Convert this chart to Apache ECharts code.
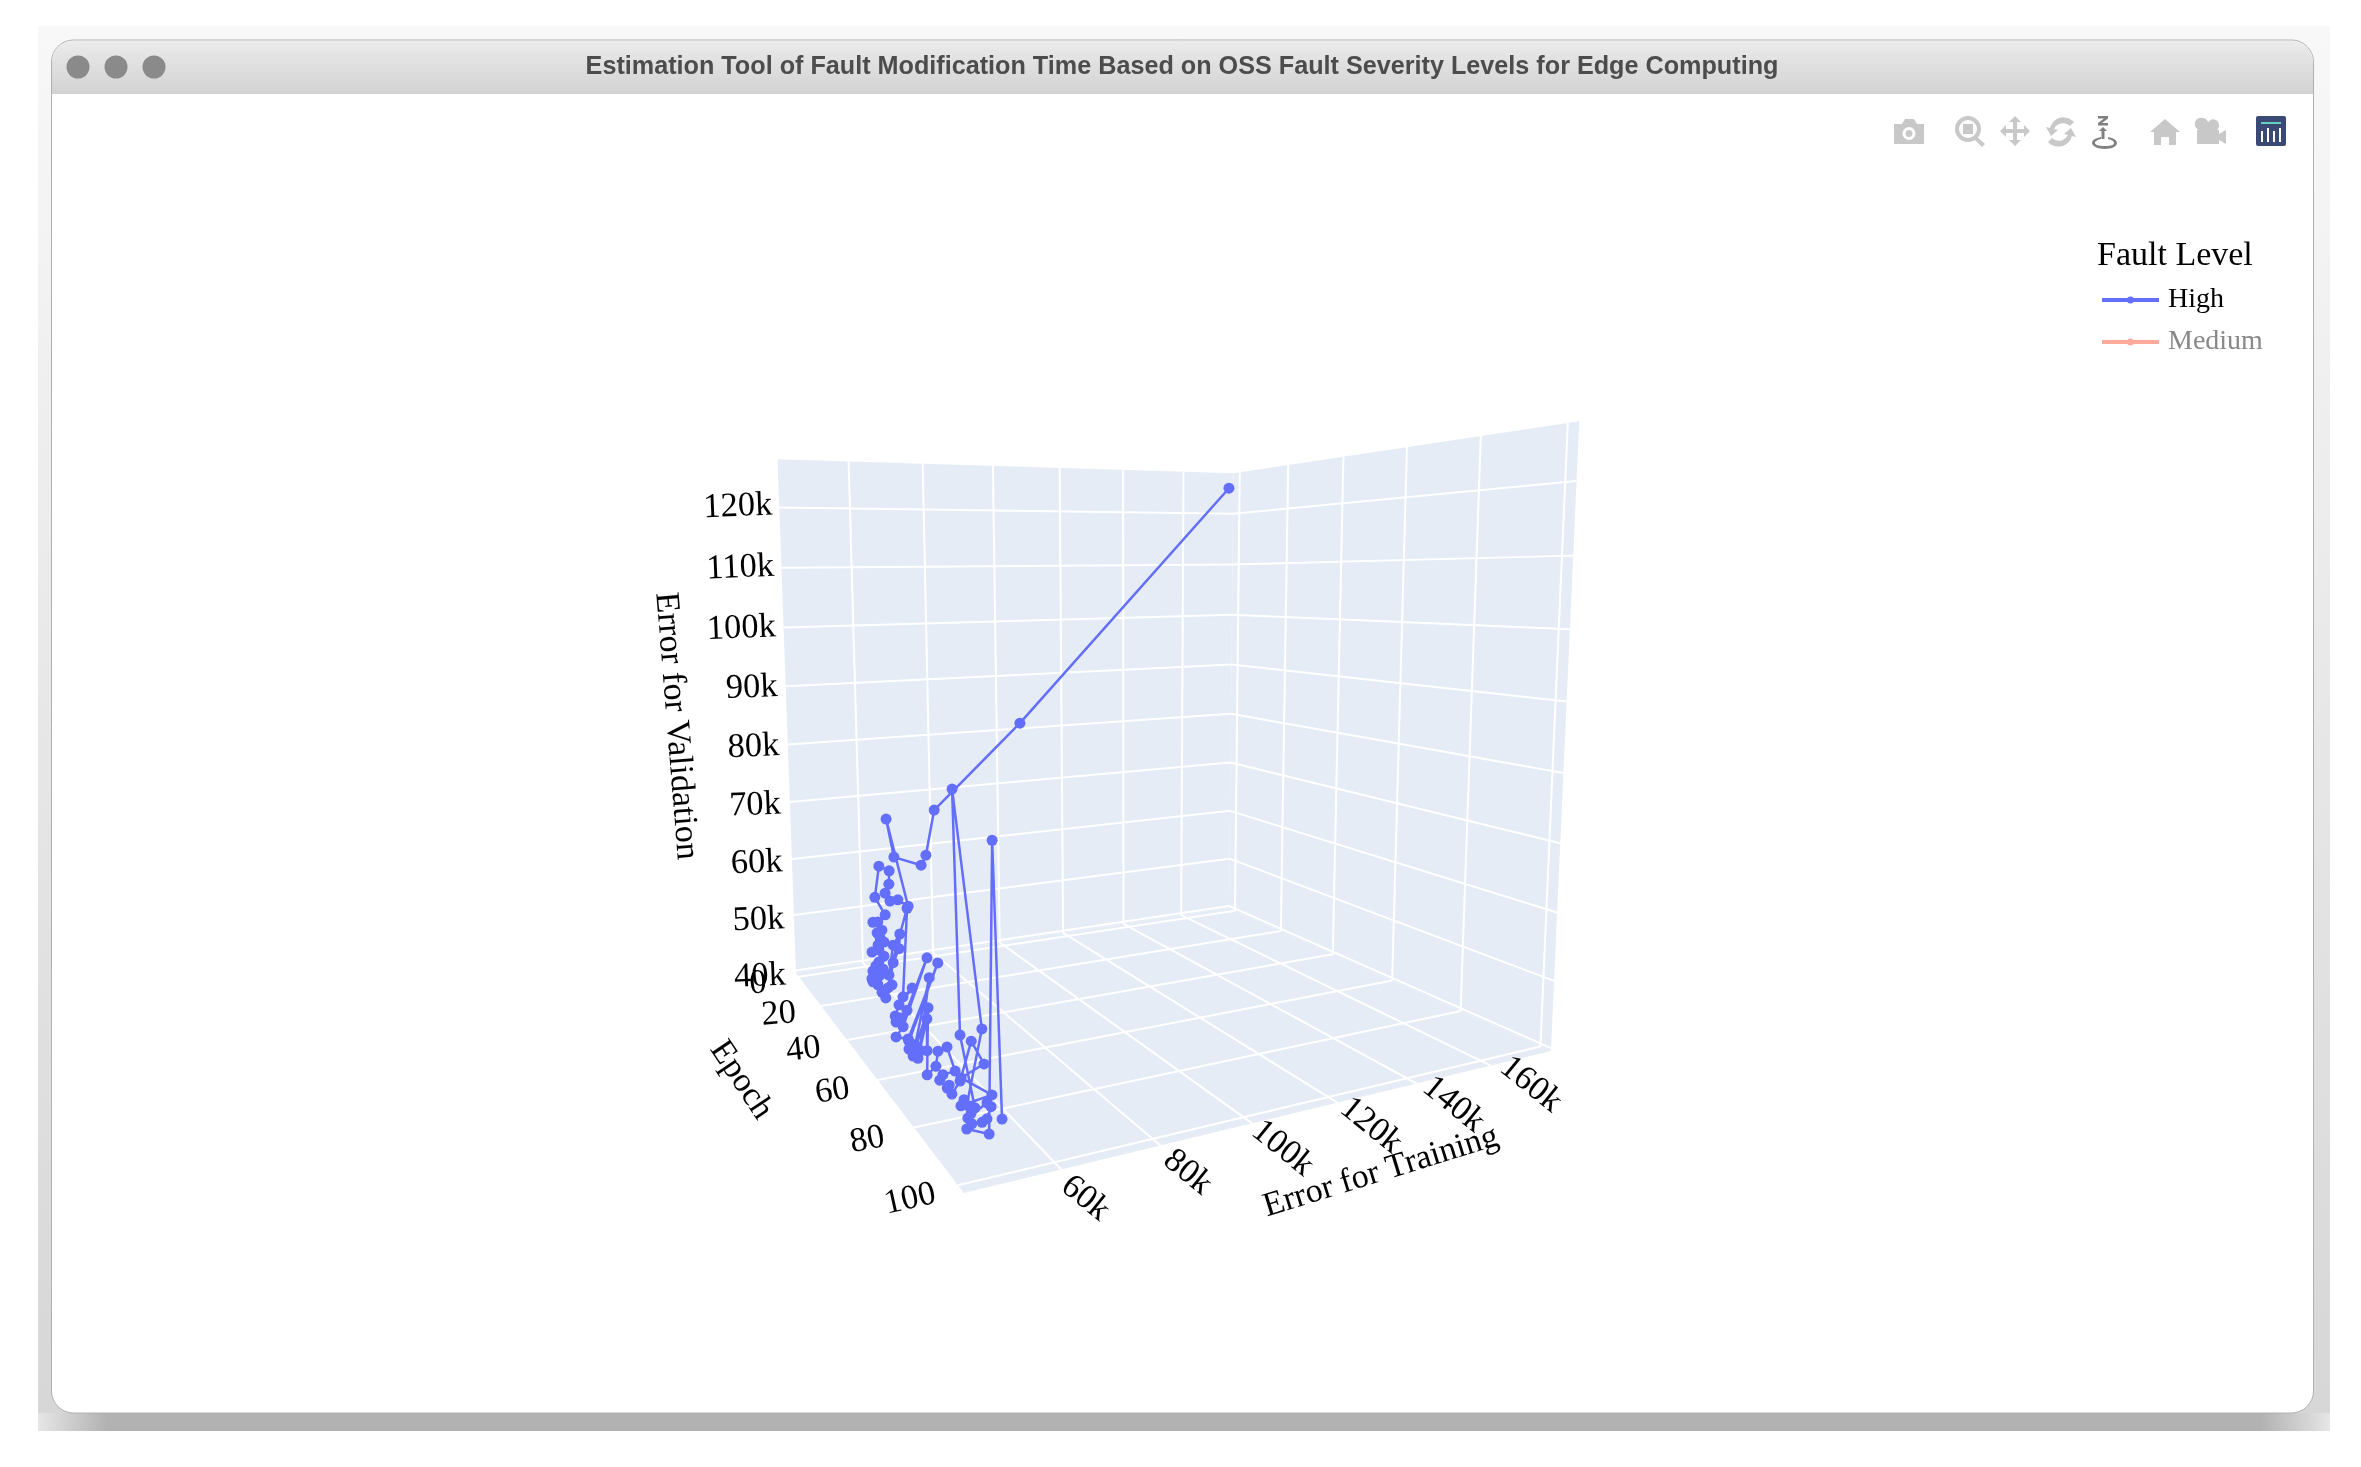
<!DOCTYPE html>
<html>
<head>
<meta charset="utf-8">
<style>html,body{margin:0;padding:0;background:#fff}#chart{width:2361px;height:1467px}</style>
<script src="https://cdn.jsdelivr.net/npm/echarts@6/dist/echarts.min.js"></script>
</head>
<body>
<div id="chart"></div>
<script>
var myChart = echarts.init(document.getElementById('chart'));

const epochTicks = [0, 20, 40, 60, 80, 100];
const trainTicks = [60000, 80000, 100000, 120000, 140000, 160000];
const valTicks = [40000, 50000, 60000, 70000, 80000, 90000, 100000, 110000, 120000];
const epochRange = [-2.8, 102.4];
const trainRange = [41800, 177300];
const valRange = [39560, 127900];

const epochs = [
  1, 2, 3, 4, 5, 6, 7, 8, 9, 10, 11, 12, 13, 14, 15, 16, 17, 18, 19, 20, 21, 22, 23, 24, 25,
  26, 27, 28, 29, 30, 31, 32, 33, 34, 35, 36, 37, 38, 39, 40, 41, 42, 43, 44, 45, 46, 47, 48, 49, 50,
  51, 52, 53, 54, 55, 56, 57, 58, 59, 60, 61, 62, 63, 64, 65, 66, 67, 68, 69, 70, 71, 72, 73, 74, 75,
  76, 77, 78, 79, 80, 81, 82, 83, 84, 85, 86, 87, 88, 89, 90, 91, 92, 93, 94, 95, 96, 97, 98, 99, 100
];
const trainError = [
  172800, 104600, 78800, 75800, 74000, 66200, 64000, 69000, 65900, 63400, 61800, 62500, 62300, 59300, 57700, 59900, 57600, 56000, 57900, 56300, 56700, 57300, 55600, 55100, 53200,
  55800, 52600, 53800, 52700, 51300, 53700, 52100, 51700, 50200, 51600, 51600, 52100, 53300, 52000, 53000, 54100, 54000, 52000, 50500, 54700, 52900, 54700, 51200, 49900, 49700,
  50500, 51500, 55900, 49800, 47800, 50100, 56700, 49500, 49100, 50100, 53100, 50300, 51600, 51100, 48700, 47300, 50300, 49400, 50900, 51000, 52500, 53700, 50700, 49600, 50700,
  50700, 50800, 52100, 54100, 56200, 51000, 56800, 50000, 50200, 50300, 53100, 47700, 47900, 50100, 48900, 47800, 51100, 51400, 50100, 48700, 46300, 44900, 48600, 49500, 50100
];
const valError = [
  124700, 81500, 67100, 59300, 57800, 60000, 67000, 51400, 53000, 53200, 54900, 56600, 59100, 60300, 55300, 52300, 51500, 51800, 50500, 50400, 49700, 49200, 48300, 49400, 48600,
  47900, 46000, 47600, 47300, 45600, 47200, 46300, 45300, 46200, 47400, 44900, 44200, 46400, 46300, 50400, 52700, 55200, 53900, 49700, 59700, 46600, 48000, 46100, 44800, 44200,
  45000, 46300, 53900, 44600, 43600, 43300, 54000, 43600, 42800, 43600, 53200, 43400, 48000, 43800, 43300, 44100, 50800, 41800, 43100, 45500, 46200, 43000, 43200, 42900, 42000,
  42700, 41800, 43700, 49100, 46100, 45200, 42500, 42300, 43400, 43000, 52800, 83200, 53200, 44000, 43800, 43700, 45500, 45300, 44300, 44400, 44900, 44800, 44000, 78800, 46300
];

// camera: fitted to the cube of the scene
function project(e, t, v) {
  var a = (e - epochRange[0]) / (epochRange[1] - epochRange[0]);
  var b = (t - trainRange[0]) / (trainRange[1] - trainRange[0]);
  var c = (v - valRange[0]) / (valRange[1] - valRange[0]);
  var w = 1 - 0.36105 * a + 0.17993 * b - 0.052 * c;
  return [(796 - 180.1 * a + 654.1 * b - 58.9 * c) / w, (973 - 210.7 * a + 98.4 * b - 537.7 * c) / w];
}

const E0 = epochRange[0], E1 = epochRange[1], T0 = trainRange[0], T1 = trainRange[1], V0 = valRange[0], V1 = valRange[1];
const wallPolys = [
  [[E0, T0, V0], [E0, T1, V0], [E0, T1, V1], [E0, T0, V1]],
  [[E0, T1, V0], [E1, T1, V0], [E1, T1, V1], [E0, T1, V1]],
  [[E0, T0, V0], [E1, T0, V0], [E1, T1, V0], [E0, T1, V0]]
];
const gridLines = [];
trainTicks.forEach(function (t) {
  gridLines.push([[E0, t, V0], [E1, t, V0]]);
  gridLines.push([[E0, t, V0], [E0, t, V1]]);
});
epochTicks.forEach(function (e) {
  gridLines.push([[e, T0, V0], [e, T1, V0]]);
  gridLines.push([[e, T1, V0], [e, T1, V1]]);
});
valTicks.forEach(function (v) {
  gridLines.push([[E0, T0, v], [E0, T1, v]]);
  gridLines.push([[E0, T1, v], [E1, T1, v]]);
});

const tickLabels = [];
valTicks.forEach(function (v) {
  var k = (120000 - v) / 80000;
  tickLabels.push({ at: [E0, T0, v], text: v / 1000 + 'k', dx: -7 - 3 * k, dy: -2 + 7 * k, rot: 0.04, align: 'right' });
});
epochTicks.forEach(function (e) {
  tickLabels.push({ at: [e, T0, V0], text: String(e), dx: -41 - e * 0.07, dy: 7 + e * 0.07, rot: 0.04 + e * 0.0018, align: 'center' });
});
trainTicks.forEach(function (t) {
  var k = (t - 60000) / 100000;
  tickLabels.push({ at: [E1, t, V0], text: t / 1000 + 'k', dx: 24 + 16 * k, dy: 29 - 10 * k, rot: -0.68, align: 'center' });
});

const SERIF = '"Liberation Serif", "Times New Roman", serif';

// plotly style modebar icons, drawn through a custom series
const modebarIcons = [
  { x: 1894, y: 118, d: 'M0 6h8l3-5h9l3 5h7v20H0z M15 9a6.5 6.5 0 1 0 .01 0z M15 12a3.5 3.5 0 1 1 -.01 0z' },
  { x: 1955, y: 116, d: 'M13 0a13 13 0 1 1 -.01 0z M13 4a9 9 0 1 0 .01 0z M8 8h10v10H8z M21 20l9 8-3 3-9-9z' },
  { x: 2000, y: 116, d: 'M15 0l6 6h-4v7h7v-4l6 6-6 6v-4h-7v7h4l-6 6-6-6h4v-7H6v4l-6-6 6-6v4h7V6H9z' },
  { x: 2046, y: 118, d: 'M28 4a14 14 0 0 0 -24 6l-4-1 5 9 7-6-4-1a10 10 0 0 1 16-3z M2 24a14 14 0 0 0 24-6l4 1-5-9-7 6 4 1a10 10 0 0 1 -16 3z' },
  { x: 2092, y: 116, d: 'M6 0h10v2.5l-6 4.5h6v2.5H6V7l6-4.5H6z M11 11l4 4h-2.5v8h-3v-8H7z M0 27c0-3 4-5 9-6v2c-3 .5-6 2-6 4s3.5 3 10 3 9-1 9-3-2-3-6-4v-2c5 1 9 3 9 6s-5 6-12 6-13-3-13-6z', color: '#808080' },
  { x: 2150, y: 119, d: 'M15 0l15 13h-4v13h-7v-8h-8v8H4V13H0z' },
  { x: 2196, y: 118, d: 'M7 0a6 6 0 0 1 5 4 6 6 0 0 1 10 0 6 6 0 0 1 -1 8h2v4l7-4v14l-7-4v4H1V12h2a6 6 0 0 1 4-12z' }
];

const chrome = [
  { type: 'rect', shape: { x: 38, y: 26, width: 2292, height: 1405 }, style: { fill: new echarts.graphic.LinearGradient(0, 0, 0, 1, [{ offset: 0, color: '#f8f8f8' }, { offset: 1, color: '#d6d6d6' }]) } },
  { type: 'rect', shape: { x: 38, y: 1413, width: 2292, height: 18 }, style: { fill: new echarts.graphic.LinearGradient(0, 0, 1, 0, [{ offset: 0, color: '#e6e6e6' }, { offset: 0.03, color: '#b2b2b2' }, { offset: 0.97, color: '#b2b2b2' }, { offset: 1, color: '#e6e6e6' }]) } },
  { type: 'rect', shape: { x: 51.5, y: 40, width: 2262, height: 1373, r: 22 }, style: { fill: '#fff', stroke: '#b0b0b0', lineWidth: 1 } },
  { type: 'rect', shape: { x: 52, y: 41, width: 2261, height: 53, r: [21, 21, 0, 0] }, style: { fill: new echarts.graphic.LinearGradient(0, 0, 0, 1, [{ offset: 0, color: '#ebebeb' }, { offset: 1, color: '#d2d2d2' }]) } },
  { type: 'circle', shape: { cx: 78, cy: 67, r: 11.5 }, style: { fill: '#8a8a8a' } },
  { type: 'circle', shape: { cx: 116, cy: 67, r: 11.5 }, style: { fill: '#8a8a8a' } },
  { type: 'circle', shape: { cx: 154, cy: 67, r: 11.5 }, style: { fill: '#8a8a8a' } },
  { type: 'text', x: 1182, y: 67, style: { text: 'Estimation Tool of Fault Modification Time Based on OSS Fault Severity Levels for Edge Computing', font: 'bold 25.2px "Liberation Sans", Arial, sans-serif', fill: '#4c4c4c', align: 'center', verticalAlign: 'middle' } },
  { type: 'rect', shape: { x: 2256, y: 116, width: 30, height: 30, r: 2 }, style: { fill: '#3b4a75' } },
  { type: 'rect', shape: { x: 2261, y: 131, width: 2, height: 11 }, style: { fill: '#fff' } },
  { type: 'rect', shape: { x: 2267, y: 128, width: 2, height: 14 }, style: { fill: '#fff' } },
  { type: 'rect', shape: { x: 2273, y: 131, width: 2, height: 11 }, style: { fill: '#fff' } },
  { type: 'rect', shape: { x: 2279, y: 128, width: 2, height: 14 }, style: { fill: '#fff' } },
  { type: 'rect', shape: { x: 2261, y: 122, width: 20, height: 2 }, style: { fill: '#69d0c0' } },
  // axis titles and legend title
  { type: 'text', x: 741, y: 1080, rotation: -0.98, style: { text: 'Epoch', font: '34px ' + SERIF, fill: '#000', align: 'center', verticalAlign: 'middle' } },
  { type: 'text', x: 676, y: 726, rotation: -1.49, style: { text: 'Error for Validation', font: '34px ' + SERIF, fill: '#000', align: 'center', verticalAlign: 'middle' } },
  { type: 'text', x: 1381, y: 1172, rotation: 0.3, style: { text: 'Error for Training', font: '34px ' + SERIF, fill: '#000', align: 'center', verticalAlign: 'middle' } },
  { type: 'text', x: 2097, y: 256, style: { text: 'Fault Level', font: '34px ' + SERIF, fill: '#000', align: 'left', verticalAlign: 'middle' } }
];

const highPoints = epochs.map(function (e, i) { return project(e, trainError[i], valError[i]); });

var option = {
  animation: false,
  backgroundColor: '#fff',
  grid: { left: 0, right: 0, top: 0, bottom: 0 },
  xAxis: { type: 'value', min: 0, max: 2361, show: false },
  yAxis: { type: 'value', min: 0, max: 1467, inverse: true, show: false },
  legend: {
    orient: 'vertical', left: 2097, top: 281, itemWidth: 57, itemHeight: 7, itemGap: 14,
    icon: 'path://M0 1.5H57V5.5H0Z M28.5 0a3.5 3.5 0 1 1 -.01 0Z',
    data: [
      { name: 'High', textStyle: { color: '#000' } },
      { name: 'Medium', textStyle: { color: '#888' } }
    ],
    textStyle: { fontFamily: SERIF, fontSize: 28, padding: [0, 0, 0, 4] }
  },
  graphic: chrome,
  series: [
    {
      type: 'custom', coordinateSystem: 'none', silent: true, z: 6, data: modebarIcons.map(function (p, i) { return i; }),
      renderItem: function (params) {
        var m = modebarIcons[params.dataIndex];
        return { type: 'path', x: m.x, y: m.y, shape: { pathData: m.d }, style: { fill: m.color || '#c8c8c8' } };
      }
    },
    {
      type: 'custom', silent: true, z: 1, data: wallPolys.map(function (p, i) { return i; }),
      renderItem: function (params, api) {
        return { type: 'polygon', shape: { points: wallPolys[params.dataIndex].map(function (p) { return api.coord(project(p[0], p[1], p[2])); }) }, style: { fill: '#e5ecf6' } };
      }
    },
    {
      type: 'custom', silent: true, z: 2, data: gridLines.map(function (p, i) { return i; }),
      renderItem: function (params, api) {
        var g = gridLines[params.dataIndex];
        var a = api.coord(project(g[0][0], g[0][1], g[0][2])), b = api.coord(project(g[1][0], g[1][1], g[1][2]));
        return { type: 'line', shape: { x1: a[0], y1: a[1], x2: b[0], y2: b[1] }, style: { stroke: '#fff', lineWidth: 2 } };
      }
    },
    {
      type: 'custom', silent: true, z: 3, data: tickLabels.map(function (p, i) { return i; }),
      renderItem: function (params, api) {
        var l = tickLabels[params.dataIndex];
        var a = api.coord(project(l.at[0], l.at[1], l.at[2]));
        return { type: 'text', x: a[0] + l.dx, y: a[1] + l.dy, rotation: l.rot, style: { text: l.text, font: '34.5px ' + SERIF, fill: '#000', align: l.align, verticalAlign: 'middle' } };
      }
    },
    {
      name: 'High', type: 'line', z: 5, data: highPoints, showSymbol: true, showAllSymbol: true, symbol: 'circle', symbolSize: 11,
      itemStyle: { color: '#636efa' }, lineStyle: { color: '#636efa', width: 2.5 }
    },
    {
      name: 'Medium', type: 'line', z: 4, data: [], itemStyle: { color: '#ffa99d' }, lineStyle: { color: '#ffa99d', width: 2 }
    }
  ]
};
myChart.setOption(option);
</script>
</body>
</html>
